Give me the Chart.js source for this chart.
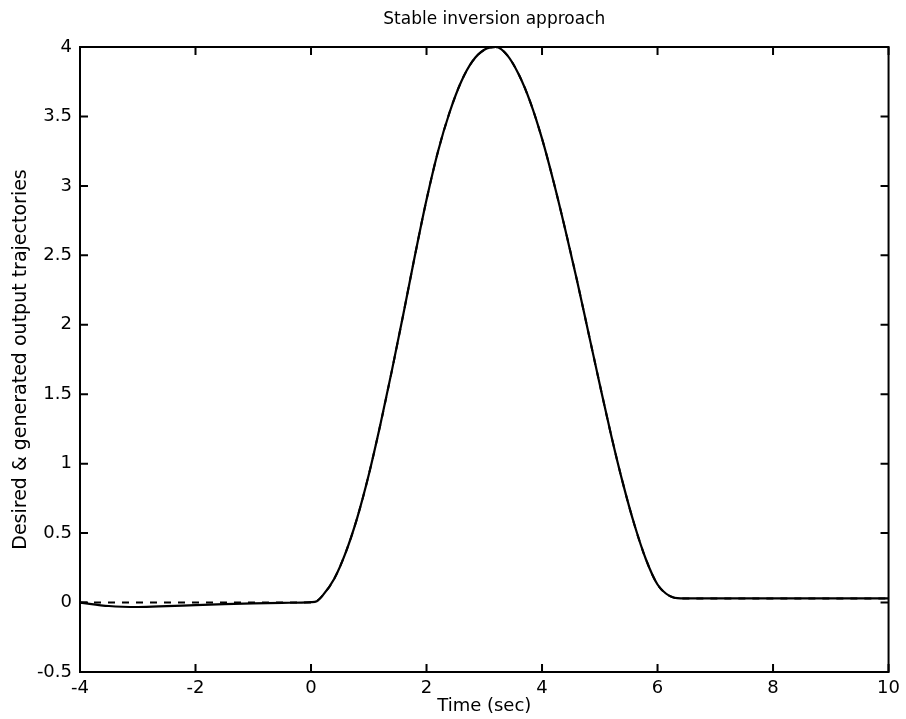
<!DOCTYPE html>
<html>
<head>
<meta charset="utf-8">
<script src="https://cdn.jsdelivr.net/npm/chart.js@4.4.0/dist/chart.umd.min.js"></script>
<style>
  html, body { margin: 0; padding: 0; background: #fff; }
  #wrap { width: 906px; height: 719px; }
</style>
</head>
<body>
<div id="wrap"><canvas id="c"></canvas></div>
<script>
// time samples (sec)
var times = [-4, -3.5, -3, -2.5, -2, -1.5, -1, -0.5, 0, 0.1, 0.2, 0.4, 0.6, 0.8, 1.0, 1.2, 1.4, 1.6, 1.8, 2.0,
  2.2, 2.4, 2.6, 2.8, 3.0, 3.2, 3.4, 3.6, 3.8, 4.0, 4.2, 4.4, 4.6, 4.8, 5.0, 5.2, 5.4, 5.6, 5.8, 6.0,
  6.2, 6.4, 7, 8, 9, 10];

// desired output trajectory (dashed)
var desired = [0, 0, 0, 0, 0, 0, 0, 0, 0, 0.01, 0.05, 0.17, 0.36, 0.61, 0.92, 1.28, 1.67, 2.08, 2.5, 2.9,
  3.25, 3.53, 3.75, 3.9, 3.98, 4.0, 3.94, 3.8, 3.6, 3.34, 3.03, 2.69, 2.33, 1.95, 1.57, 1.2, 0.86, 0.56, 0.31, 0.13,
  0.05, 0.03, 0.03, 0.03, 0.03, 0.03];

// generated output trajectory (solid)
var generated = [0, -0.025, -0.032, -0.026, -0.018, -0.011, -0.006, -0.002, 0.003, 0.01, 0.05, 0.17, 0.36, 0.61, 0.92, 1.28, 1.67, 2.08, 2.5, 2.9,
  3.25, 3.53, 3.75, 3.9, 3.98, 4.0, 3.94, 3.8, 3.6, 3.34, 3.03, 2.69, 2.33, 1.95, 1.57, 1.2, 0.86, 0.56, 0.31, 0.13,
  0.05, 0.03, 0.03, 0.03, 0.03, 0.03];

var xTicks = [-4, -2, 0, 2, 4, 6, 8, 10];
var yTicks = [-0.5, 0, 0.5, 1, 1.5, 2, 2.5, 3, 3.5, 4];

var titleText = 'Stable inversion approach';

function toPoints(ys) {
  return times.map(function (t, i) { return { x: t, y: ys[i] }; });
}

var font = "'DejaVu Sans', sans-serif";

// box round the plot with inward ticks on all four sides (matlab style), plus the title
var boxTicks = {
  id: 'boxTicks',
  afterDraw: function (chart) {
    var ctx = chart.ctx, a = chart.chartArea;
    var xs = chart.scales.x, ys = chart.scales.y;
    var len = 8;
    ctx.save();
    ctx.strokeStyle = '#000';
    ctx.lineWidth = 2;
    ctx.strokeRect(a.left, a.top, a.right - a.left, a.bottom - a.top);
    ctx.beginPath();
    xTicks.forEach(function (v) {
      var px = xs.getPixelForValue(v);
      ctx.moveTo(px, a.bottom); ctx.lineTo(px, a.bottom - len);
      ctx.moveTo(px, a.top); ctx.lineTo(px, a.top + len);
    });
    yTicks.forEach(function (v) {
      var py = ys.getPixelForValue(v);
      ctx.moveTo(a.left, py); ctx.lineTo(a.left + len, py);
      ctx.moveTo(a.right, py); ctx.lineTo(a.right - len, py);
    });
    ctx.stroke();

    // title over the axes
    ctx.fillStyle = '#000';
    ctx.font = '17px ' + font;
    ctx.textAlign = 'center';
    ctx.textBaseline = 'middle';
    ctx.fillText(titleText, (a.left + a.right) / 2 + 10, 20);
    ctx.restore();
  }
};

new Chart(document.getElementById('c'), {
  type: 'line',
  data: {
    datasets: [
      {
        label: 'Desired',
        data: toPoints(desired),
        borderColor: '#000',
        borderWidth: 2,
        borderDash: [7, 7],
        pointRadius: 0,
        cubicInterpolationMode: 'monotone',
        fill: false
      },
      {
        label: 'Generated',
        data: toPoints(generated),
        borderColor: '#000',
        borderWidth: 2.2,
        pointRadius: 0,
        cubicInterpolationMode: 'monotone',
        fill: false
      }
    ]
  },
  options: {
    responsive: true,
    maintainAspectRatio: false,
    animation: false,
    layout: { padding: { left: 0, right: 13, top: 47, bottom: 0 } },
    plugins: {
      legend: { display: false },
      tooltip: { enabled: false },
      title: { display: false }
    },
    scales: {
      x: {
        type: 'linear',
        min: -4,
        max: 10,
        afterBuildTicks: function (s) { s.ticks = xTicks.map(function (v) { return { value: v }; }); },
        afterFit: function (s) { s.height = 47; },
        grid: { display: false, drawTicks: false },
        border: { display: false },
        ticks: {
          color: '#000', padding: 6, font: { family: font, size: 18 },
          callback: function (v) { return String(v); }
        },
        title: {
          display: true,
          text: 'Time (sec)',
          color: '#000',
          font: { family: font, size: 18 },
          padding: { top: 0, bottom: 2 }
        }
      },
      y: {
        type: 'linear',
        min: -0.5,
        max: 4,
        afterBuildTicks: function (s) { s.ticks = yTicks.map(function (v) { return { value: v }; }); },
        afterFit: function (s) { s.width = 80; },
        grid: { display: false, drawTicks: false },
        border: { display: false },
        ticks: {
          color: '#000', padding: 8, font: { family: font, size: 18 },
          callback: function (v) { return String(v); }
        },
        title: {
          display: true,
          text: 'Desired & generated output trajectories',
          color: '#000',
          font: { family: font, size: 19 },
          padding: { top: 10, bottom: 0 }
        }
      }
    }
  },
  plugins: [boxTicks]
});
</script>
</body>
</html>
